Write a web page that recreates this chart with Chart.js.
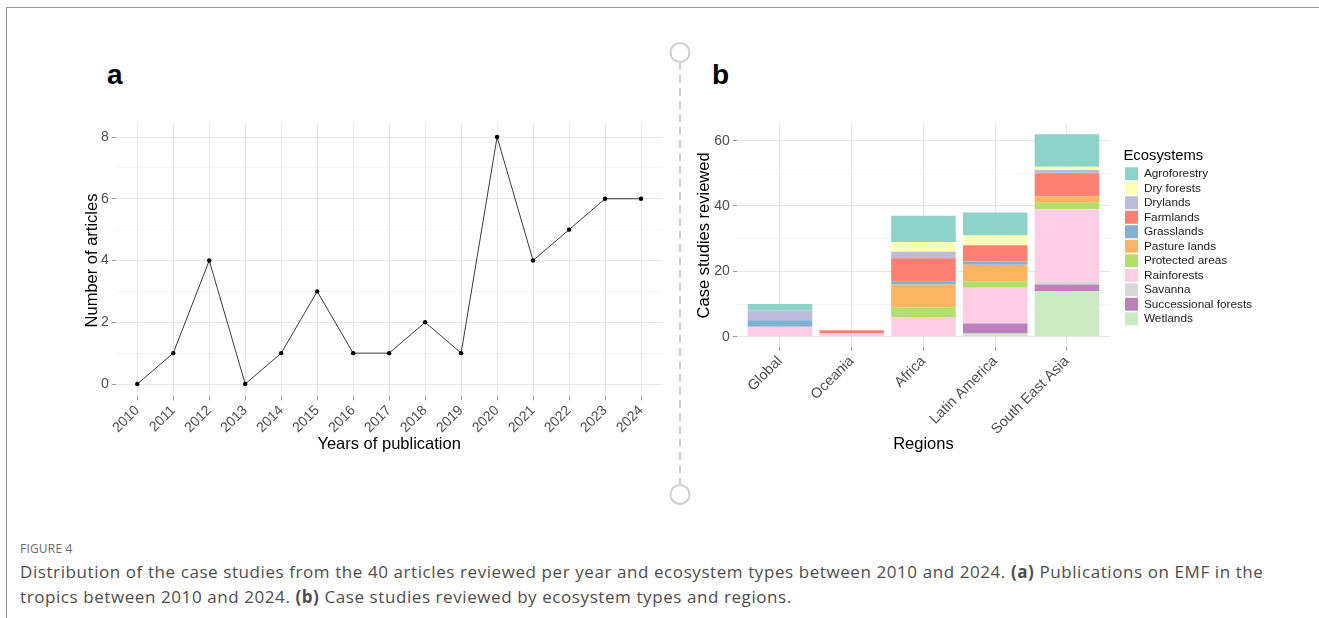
<!doctype html>
<meta charset="utf-8">
<style>
    body { margin: 0; width: 1319px; height: 618px; overflow: hidden; position: relative; background: #fff; font-family: "Liberation Sans", Arial, sans-serif; }
    .frame { position: absolute; left: 6px; top: 7px; width: 1320px; height: 620px; border-left: 1px solid #9a9a9a; border-top: 1px solid #9a9a9a; }
    canvas { position: absolute; top: 0; }
    #chartA { left: 0; }
    #chartB { left: 680px; }
    .tag { position: absolute; font-weight: bold; font-size: 28px; line-height: 28px; color: #000; }
    #divider { position: absolute; left: 668px; top: 40px; }
    .caption { position: absolute; left: 20px; font-family: "Open Sans", sans-serif; white-space: nowrap; }
    #fig { top: 540px; font-size: 12px; color: #6b6b6b; letter-spacing: 0.2px; }
    #text { top: 559px; font-size: 17px; line-height: 25px; color: #4d4d4d; letter-spacing: 0.58px; }
</style>

<div class="frame"></div>
<div class="tag" style="left:107px; top:61px">a</div>
<div class="tag" style="left:712px; top:61px">b</div>
<canvas id="chartA" width="680" height="480"></canvas>
<canvas id="chartB" width="639" height="480"></canvas>
<svg id="divider" width="24" height="470">
    <circle cx="12" cy="12.5" r="9.5" fill="none" stroke="#cfcfcf" stroke-width="2"/>
    <line x1="12" y1="22" x2="12" y2="444" stroke="#cfcfcf" stroke-width="2" stroke-dasharray="8 5"/>
    <circle cx="12" cy="454.5" r="9.5" fill="none" stroke="#cfcfcf" stroke-width="2"/>
</svg>
<div class="caption" id="fig">FIGURE 4</div>
<div class="caption" id="text">Distribution of the case studies from the 40 articles reviewed per year and ecosystem types between 2010 and 2024. <b>(a)</b> Publications on EMF in the<br>tropics between 2010 and 2024. <b>(b)</b> Case studies reviewed by ecosystem types and regions.</div>

<script src="https://cdn.jsdelivr.net/npm/chart.js@4.4.1/dist/chart.umd.min.js"></script>
<script>
    // panel a
    const years = [2010, 2011, 2012, 2013, 2014, 2015, 2016, 2017, 2018, 2019, 2020, 2021, 2022, 2023, 2024];
    const articles = [0, 1, 4, 0, 1, 3, 1, 1, 2, 1, 8, 4, 5, 6, 6];
    const yTicksA = [0, 2, 4, 6, 8];

    // panel b
    const regions = ["Global", "Oceania", "Africa", "Latin America", "South East Asia"];
    const ecosystems = ["Agroforestry", "Dry forests", "Drylands", "Farmlands", "Grasslands", "Pasture lands",
        "Protected areas", "Rainforests", "Savanna", "Successional forests", "Wetlands"];
    const agroforestry = [2, 0, 8, 7, 10];
    const dryForests = [0, 0, 3, 3, 1];
    const drylands = [3, 0, 2, 0, 1];
    const farmlands = [0, 1, 7, 5, 7];
    const grasslands = [2, 0, 1, 1, 0];
    const pastureLands = [0, 0, 7, 5, 2];
    const protectedAreas = [0, 0, 3, 2, 2];
    const rainforests = [3, 1, 6, 11, 22];
    const savanna = [0, 0, 0, 0, 1];
    const successional = [0, 0, 0, 3, 2];
    const wetlands = [0, 0, 0, 1, 14];
    const yTicksB = [0, 20, 40, 60];

    const values = [agroforestry, dryForests, drylands, farmlands, grasslands, pastureLands,
        protectedAreas, rainforests, savanna, successional, wetlands];
    const colors = ["#8DD3C7", "#FFFFB3", "#BEBADA", "#FB8072", "#80B1D3", "#FDB462",
        "#B3DE69", "#FCCDE5", "#D9D9D9", "#BC80BD", "#CCEBC5"];

    const family = "'Liberation Sans', Arial, sans-serif";
    Chart.defaults.font.family = family;
    Chart.defaults.animation = false;

    const withMinor = majors => {
        const out = [];
        majors.forEach((v, i) => {
            out.push(v);
            if (i < majors.length - 1) out.push((v + majors[i + 1]) / 2);
        });
        return out;
    };
    const gridFor = majors => ({
        color: c => majors.includes(c.tick.value) ? "#e6e6e6" : "#f2f2f2",
        lineWidth: c => majors.includes(c.tick.value) ? 1 : 0.8,
        tickColor: c => majors.includes(c.tick.value) ? "#9a9a9a" : "rgba(0,0,0,0)",
        tickLength: 4,
        offset: false
    });
    const tickFont = {size: 14};
    const titleFont = {size: 16.5};

    new Chart(document.getElementById("chartA"), {
        type: "line",
        data: {
            datasets: [{
                data: years.map((y, i) => ({x: y, y: articles[i]})),
                borderColor: "#3a3a3a",
                borderWidth: 1,
                pointRadius: 2.2,
                pointBackgroundColor: "#000",
                pointBorderWidth: 0,
                tension: 0
            }]
        },
        options: {
            responsive: false,
            layout: {padding: {left: 82.4, top: 124.65, right: 17.4, bottom: 25.4}},
            plugins: {legend: {display: false}, tooltip: {enabled: false}},
            scales: {
                x: {
                    type: "linear", min: 2009.4, max: 2024.6, offset: false,
                    afterBuildTicks: s => { s.ticks = years.map(v => ({value: v})); },
                    afterFit: s => { s.height = 58.25; },
                    ticks: {callback: v => String(v), minRotation: 45, maxRotation: 45, autoSkip: false,
                        padding: 2, color: "#4d4d4d", font: tickFont},
                    grid: gridFor(years),
                    border: {display: false},
                    title: {display: true, text: "Years of publication", color: "#000", font: titleFont, padding: 0}
                },
                y: {
                    min: -0.4, max: 8.4,
                    afterBuildTicks: s => { s.ticks = withMinor(yTicksA).map(v => ({value: v})); },
                    afterFit: s => { s.width = 33.3; },
                    ticks: {callback: v => yTicksA.includes(v) ? String(v) : "", padding: 3, color: "#4d4d4d", font: tickFont},
                    grid: gridFor(yTicksA),
                    border: {display: false},
                    title: {display: true, text: "Number of articles", color: "#000", font: titleFont, padding: 0}
                }
            }
        }
    });

    // legend width is measured so the plot area keeps its place
    const legendFont = 11.8;
    const measure = document.createElement("canvas").getContext("2d");
    measure.font = legendFont + "px " + family;
    const longest = Math.max(...ecosystems.map(e => measure.measureText(e).width));
    const legendWidth = 1.5 + 13 + legendFont / 2 + longest + 10;
    const plotRight = 430;
    const padAxis = 13.5;

    new Chart(document.getElementById("chartB"), {
        type: "bar",
        data: {
            datasets: ecosystems.map((name, k) => ({
                label: name,
                data: values[k].map((v, i) => ({x: i, y: v})),
                backgroundColor: colors[k],
                borderWidth: 0,
                categoryPercentage: 1,
                barPercentage: 0.9,
                yAxisID: "y"
            })).reverse()
        },
        options: {
            responsive: false,
            layout: {padding: {left: 14.9, top: 124, right: 639 - plotRight - padAxis - legendWidth, bottom: 25.4}},
            plugins: {
                tooltip: {enabled: false},
                legend: {
                    position: "right", align: "center", fullSize: false, reverse: true, maxWidth: 400,
                    title: {display: true, text: "Ecosystems", position: "start", color: "#000", font: {size: 14.8}, padding: {top: 4, bottom: 0}},
                    labels: {boxWidth: 13, boxHeight: 13, padding: 1.5, color: "#1a1a1a", font: {size: legendFont}}
                }
            },
            scales: {
                x: {
                    type: "linear", min: -0.6, max: 4.6, offset: false, stacked: true,
                    afterBuildTicks: s => { s.ticks = regions.map((r, i) => ({value: i})); },
                    afterFit: s => { s.height = 107.8; },
                    ticks: {callback: v => regions[v], minRotation: 45, maxRotation: 45, autoSkip: false,
                        padding: 2, color: "#4d4d4d", font: {size: 14.5}},
                    grid: gridFor(regions.map((r, i) => i)),
                    border: {display: false},
                    title: {display: true, text: "Regions", color: "#000", font: titleFont, padding: 0}
                },
                y: {
                    min: -3.1, max: 65.1, stacked: true,
                    afterBuildTicks: s => { s.ticks = withMinor(yTicksB).map(v => ({value: v})); },
                    afterFit: s => { s.width = 42; },
                    ticks: {callback: v => yTicksB.includes(v) ? String(v) : "", padding: 3, color: "#4d4d4d", font: tickFont},
                    grid: gridFor(yTicksB),
                    border: {display: false},
                    title: {display: true, text: "Case studies reviewed", color: "#000", font: titleFont, padding: 0}
                },
                pad: {
                    position: "right", display: true,
                    afterFit: s => { s.width = padAxis; },
                    ticks: {display: false},
                    grid: {display: false, drawTicks: false},
                    border: {display: false}
                }
            }
        }
    });
</script>
